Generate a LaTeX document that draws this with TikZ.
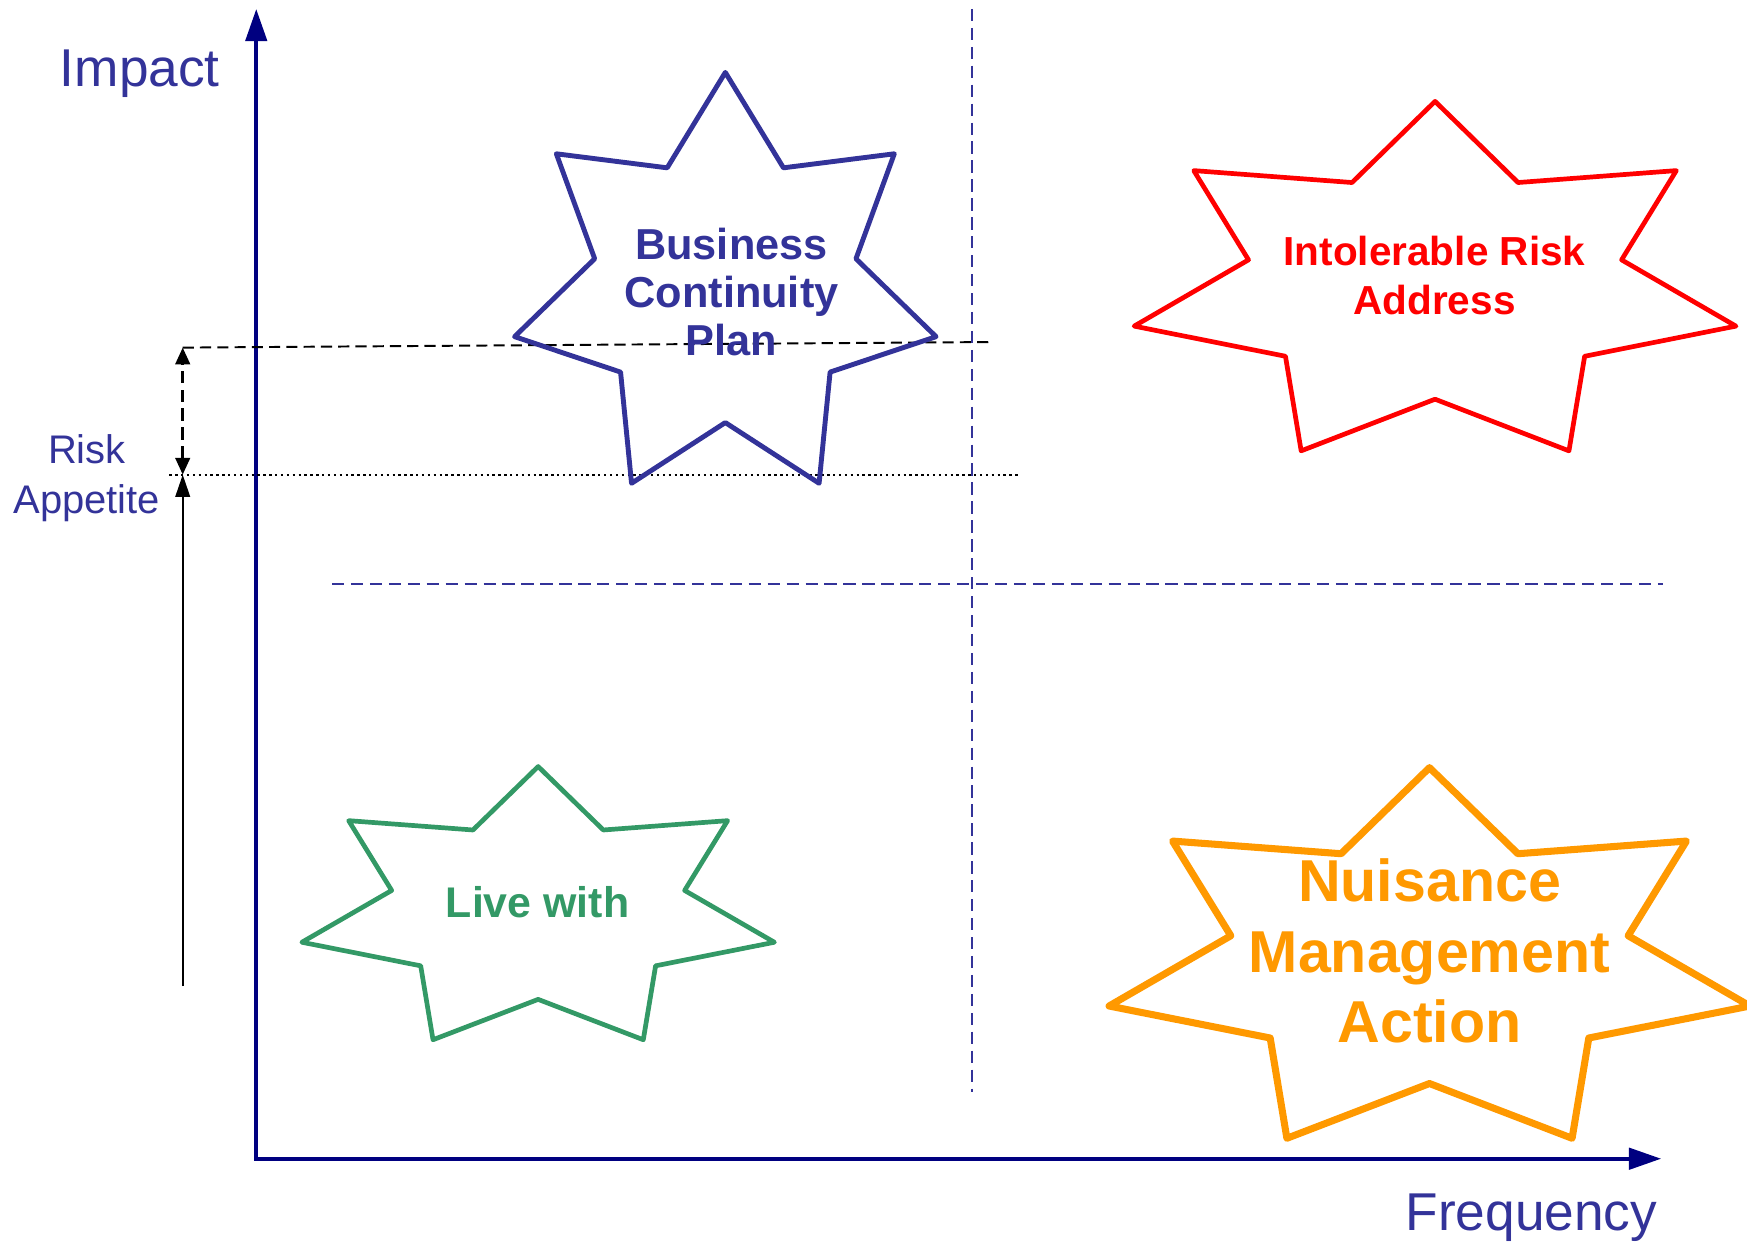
\documentclass[tikz,border=0pt]{standalone}
\usepackage{fontspec}
\setmainfont{Liberation Sans}
\usetikzlibrary{arrows.meta}

\definecolor{axisnavy}{HTML}{000080}
\definecolor{labelblue}{HTML}{333399}
\definecolor{livegreen}{HTML}{339966}
\definecolor{nuisanceorange}{HTML}{FF9900}

\begin{document}
\begin{tikzpicture}[>={Triangle[length=2mm, width=1.3mm]},
    axis/.style={axisnavy, line width=1.1pt, >={Triangle[length=2.9mm, width=1.9mm]}, <->},
    guide/.style={labelblue, line width=0.5pt, dash pattern=on 1.1mm off 0.6mm},
    starline/.style={line width=#1, line join=round},
    startext/.style={font=#1\bfseries, align=center}]

    % Define variables/coordinates
    \def\Inner{0.62}
    \useasboundingbox (0,0) rectangle (15.68,11.14);

    \coordinate (O) at (2.30,0.74);
    \coordinate (ytip) at (2.30,11.06);
    \coordinate (xtip) at (14.91,0.74);

    % Quadrant dividers
    \draw[guide] (8.72,11.06) -- (8.72,1.34);
    \draw[guide] (2.98,5.90) -- (14.93,5.90);

    % Draw axes
    \draw[axis] (ytip) -- (O) -- (xtip);
    \node[labelblue, font=\fontsize{13.6}{16}\selectfont, anchor=base] (impact) at (1.255,10.36) {Impact};
    \node[labelblue, font=\fontsize{13.6}{16}\selectfont, anchor=base] (frequency) at (13.745,0.10) {Frequency};

    % Risk appetite band
    \coordinate (appTop) at (1.64,8.02);
    \coordinate (appTopEnd) at (8.90,8.07);
    \coordinate (appBase) at (1.64,6.88);
    \coordinate (dotL) at (1.52,6.88);
    \coordinate (dotR) at (9.15,6.88);
    \coordinate (appFoot) at (1.64,2.29);
    \draw[line width=0.5pt, dash pattern=on 1mm off 0.55mm] (appTop) -- (appTopEnd);
    \draw[line width=0.5pt, dash pattern=on 0.6pt off 0.9pt] (dotL) -- (dotR);
    \draw[<->, line width=0.7pt, dash pattern=on 1.1mm off 0.6mm,
        >={Triangle[length=1.5mm, width=1.3mm]}] (appBase) -- (appTop);
    \draw[->, line width=0.6pt] (appFoot) -- (appBase);
    \node[labelblue, font=\fontsize{10.2}{12.8}\selectfont, align=center] (appetite) at (0.78,6.846) {Risk\\Appetite};

    % Stars
    \draw[starline=1.25pt, labelblue, shift={(6.51,8.55)}, xscale=1.94, yscale=1.94]
        (90:1) \foreach \k in {1,...,13} { -- ({90+\k*360/14}:{1-(1-\Inner)*mod(\k,2)}) } -- cycle;
    \draw[starline=1.2pt, red, shift={(12.88,8.58)}, xscale=2.77, yscale=1.65]
        (90:1) \foreach \k in {1,...,13} { -- ({90+\k*360/14}:{1-(1-\Inner)*mod(\k,2)}) } -- cycle;
    \draw[starline=1.2pt, livegreen, shift={(4.83,2.97)}, xscale=2.175, yscale=1.29]
        (90:1) \foreach \k in {1,...,13} { -- ({90+\k*360/14}:{1-(1-\Inner)*mod(\k,2)}) } -- cycle;
    \draw[starline=1.8pt, nuisanceorange, shift={(12.83,2.50)}, xscale=2.95, yscale=1.75]
        (90:1) \foreach \k in {1,...,13} { -- ({90+\k*360/14}:{1-(1-\Inner)*mod(\k,2)}) } -- cycle;

    % Star labels
    \node[startext=\fontsize{11.06}{12.2}\selectfont, labelblue] (bcp) at (6.565,8.52) {Business\\Continuity\\Plan};
    \node[startext=\fontsize{10.35}{12.5}\selectfont, red] (intolerable) at (12.875,8.67) {Intolerable Risk\\Address};
    \node[startext=\fontsize{10.95}{13}\selectfont, livegreen] (livewith) at (4.825,3.04) {Live with};
    \node[startext=\fontsize{15.1}{18}\selectfont, nuisanceorange] (nuisance) at (12.83,2.605) {Nuisance\\Management\\Action};

\end{tikzpicture}
\end{document}
